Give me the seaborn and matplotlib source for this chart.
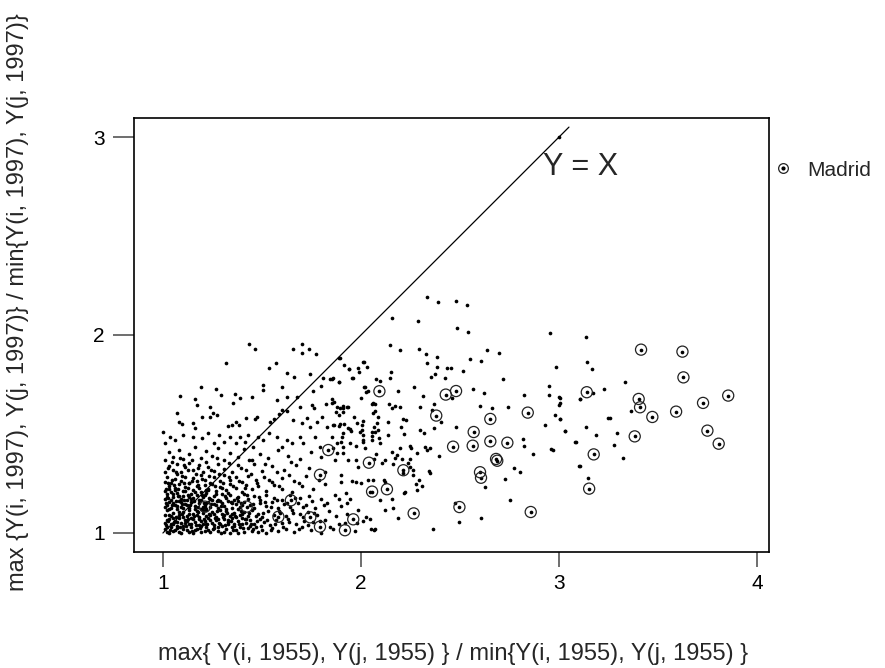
import matplotlib
matplotlib.use("Agg")
import matplotlib.pyplot as plt
from matplotlib.lines import Line2D
from matplotlib.legend_handler import HandlerTuple
import seaborn as sns
import pandas as pd

# --- data (ratio 1955 vs ratio 1997) ---
dense_pts = [
    (1.01,1.02),(1.02,1.005),(1.04,1.03),(1.05,1.01),(1.07,1.025),(1.09,1.00),(1.10,1.035),(1.12,1.015),(1.14,1.03),(1.15,1.00),
    (1.17,1.02),(1.19,1.035),(1.21,1.01),(1.22,1.03),(1.24,1.005),(1.26,1.025),(1.28,1.01),(1.30,1.035),(1.32,1.02),(1.34,1.00),
    (1.35,1.03),(1.37,1.015),(1.39,1.03),(1.41,1.005),(1.43,1.025),(1.45,1.01),(1.47,1.03),(1.50,1.015),(1.52,1.00),(1.55,1.025),
    (1.58,1.01),(1.62,1.02),(1.66,1.005),(1.70,1.03),(1.75,1.015),(1.80,1.00),(1.86,1.02),(1.97,1.01),(2.05,1.02),
    (1.01,1.05),(1.03,1.07),(1.04,1.045),(1.06,1.06),(1.08,1.075),(1.09,1.05),(1.11,1.065),(1.13,1.045),(1.14,1.075),(1.16,1.055),
    (1.18,1.07),(1.20,1.045),(1.21,1.06),(1.23,1.075),(1.25,1.05),(1.27,1.065),(1.29,1.045),(1.31,1.07),(1.33,1.055),(1.35,1.075),
    (1.36,1.045),(1.38,1.06),(1.40,1.075),(1.42,1.05),(1.44,1.065),(1.46,1.045),(1.49,1.07),(1.51,1.055),(1.54,1.04),(1.57,1.065),
    (1.60,1.05),(1.63,1.07),(1.67,1.045),(1.71,1.06),(1.76,1.055),(1.82,1.065),(1.89,1.045),(2.01,1.06),
    (1.01,1.09),(1.02,1.115),(1.04,1.085),(1.05,1.10),(1.07,1.12),(1.08,1.09),(1.10,1.105),(1.12,1.085),(1.13,1.115),(1.15,1.095),
    (1.17,1.11),(1.18,1.08),(1.20,1.10),(1.22,1.115),(1.24,1.09),(1.25,1.105),(1.27,1.08),(1.29,1.115),(1.30,1.095),(1.32,1.11),
    (1.34,1.085),(1.36,1.10),(1.38,1.12),(1.39,1.09),(1.41,1.105),(1.43,1.085),(1.45,1.115),(1.48,1.095),(1.50,1.08),(1.53,1.11),
    (1.56,1.09),(1.59,1.10),(1.62,1.085),(1.65,1.115),(1.69,1.095),(1.73,1.105),(1.78,1.09),(1.84,1.11),(1.93,1.095),
    (1.01,1.13),(1.03,1.155),(1.04,1.125),(1.06,1.14),(1.08,1.16),(1.09,1.13),(1.11,1.145),(1.13,1.125),(1.14,1.155),(1.16,1.135),
    (1.18,1.15),(1.19,1.12),(1.21,1.14),(1.23,1.155),(1.24,1.13),(1.26,1.145),(1.28,1.125),(1.30,1.15),(1.31,1.135),(1.33,1.16),
    (1.35,1.125),(1.37,1.145),(1.39,1.13),(1.41,1.155),(1.44,1.14),(1.46,1.125),(1.49,1.15),(1.52,1.135),(1.55,1.155),(1.58,1.125),
    (1.61,1.145),(1.64,1.13),(1.68,1.15),(1.72,1.14),(1.77,1.125),(1.83,1.15),(1.90,1.135),
    (1.01,1.17),(1.02,1.195),(1.04,1.165),(1.05,1.18),(1.07,1.20),(1.09,1.17),(1.10,1.185),(1.12,1.165),(1.14,1.195),(1.15,1.175),
    (1.17,1.19),(1.19,1.165),(1.20,1.18),(1.22,1.20),(1.24,1.17),(1.26,1.185),(1.28,1.165),(1.30,1.195),(1.32,1.175),(1.34,1.19),
    (1.36,1.165),(1.38,1.18),(1.41,1.195),(1.43,1.17),(1.46,1.185),(1.49,1.165),(1.52,1.19),(1.56,1.175),(1.60,1.165),(1.64,1.19),
    (1.69,1.175),(1.74,1.185),(1.80,1.17),(1.87,1.19),
]
fill_pts = [
    (1.02,1.03),(1.03,1.00),(1.05,1.045),(1.06,1.015),(1.07,1.035),(1.08,1.005),(1.10,1.02),(1.11,1.05),(1.13,1.005),(1.14,1.045),
    (1.16,1.015),(1.18,1.04),(1.19,1.005),(1.22,1.045),(1.23,1.015),(1.26,1.04),(1.28,1.03),(1.31,1.005),(1.33,1.045),(1.36,1.035),
    (1.38,1.00),(1.40,1.045),(1.44,1.035),(1.48,1.005),
    (1.02,1.065),(1.03,1.09),(1.05,1.075),(1.07,1.055),(1.08,1.105),(1.10,1.08),(1.12,1.06),(1.13,1.095),(1.15,1.07),(1.17,1.09),
    (1.19,1.06),(1.20,1.115),(1.22,1.085),(1.24,1.065),(1.26,1.095),(1.28,1.07),(1.31,1.09),(1.33,1.065),(1.35,1.095),(1.37,1.08),
    (1.40,1.095),(1.42,1.07),(1.47,1.085),
    (1.02,1.14),(1.03,1.12),(1.05,1.15),(1.07,1.135),(1.09,1.155),(1.10,1.125),(1.12,1.14),(1.14,1.17),(1.16,1.12),(1.18,1.165),
    (1.20,1.13),(1.22,1.15),(1.25,1.165),(1.27,1.14),(1.29,1.16),(1.32,1.12),(1.35,1.15),(1.38,1.16),(1.40,1.14),
    (1.02,1.18),(1.03,1.22),(1.05,1.195),(1.06,1.215),(1.08,1.185),(1.11,1.21),(1.13,1.18),(1.16,1.205),(1.18,1.225),(1.21,1.19),
    (1.23,1.215),(1.27,1.195),(1.30,1.225),(1.33,1.20),
]
fill_pts2 = [
    (1.015,1.04),(1.025,1.06),(1.035,1.015),(1.055,1.055),(1.065,1.08),(1.085,1.03),(1.095,1.095),(1.115,1.035),(1.125,1.07),
    (1.145,1.01),(1.155,1.085),(1.165,1.04),(1.175,1.105),(1.185,1.025),(1.205,1.07),(1.215,1.12),(1.225,1.045),(1.235,1.095),
    (1.255,1.02),(1.265,1.075),(1.275,1.11),(1.285,1.05),(1.295,1.00),(1.305,1.08),(1.315,1.04),(1.325,1.10),(1.345,1.06),
    (1.355,1.015),(1.365,1.085),(1.385,1.045),(1.395,1.11),(1.405,1.025),(1.415,1.07),(1.435,1.10),(1.445,1.045),(1.455,1.02),
    (1.475,1.06),(1.495,1.035),(1.505,1.10),(1.525,1.065),(1.545,1.015),(1.565,1.045),(1.585,1.11),(1.605,1.03),(1.635,1.055),
    (1.655,1.10),(1.685,1.02),(1.705,1.08),(1.735,1.04),(1.765,1.10),(1.795,1.06),(1.845,1.03),(1.875,1.085),(1.92,1.05),
    (1.015,1.15),(1.025,1.175),(1.045,1.14),(1.065,1.16),(1.075,1.185),(1.095,1.145),(1.105,1.165),(1.125,1.19),(1.135,1.14),
    (1.155,1.16),(1.175,1.13),(1.195,1.19),(1.205,1.15),(1.235,1.175),(1.245,1.145),(1.275,1.16),(1.295,1.135),(1.315,1.185),
    (1.345,1.155),(1.375,1.175),(1.395,1.15),(1.425,1.19),(1.455,1.145),(1.485,1.18),(1.515,1.155),(1.545,1.13),(1.575,1.165),
    (1.625,1.15),(1.665,1.175),(1.705,1.13),(1.755,1.16),(1.815,1.14),
    (1.015,1.22),(1.025,1.25),(1.045,1.27),(1.055,1.24),(1.075,1.22),(1.095,1.29),(1.105,1.25),(1.125,1.225),(1.145,1.265),
    (1.165,1.30),(1.175,1.24),(1.195,1.275),(1.215,1.215),(1.235,1.29),(1.265,1.235),(1.285,1.30),(1.305,1.25),(1.335,1.285),
    (1.355,1.235),(1.385,1.265),(1.415,1.225),(1.445,1.30),(1.475,1.25),(1.535,1.27),(1.585,1.235),(1.635,1.295),(1.685,1.25),
    (1.025,1.33),(1.045,1.36),(1.065,1.31),(1.085,1.38),(1.105,1.345),(1.125,1.32),(1.145,1.37),(1.175,1.33),(1.215,1.36),
    (1.245,1.32),(1.275,1.38),(1.335,1.355),(1.395,1.33),(1.435,1.37),(1.515,1.35),(1.575,1.31),(1.645,1.36),
]
mid_pts = [
    (1.01,1.21),(1.03,1.235),(1.04,1.205),(1.06,1.225),(1.08,1.245),(1.10,1.21),(1.11,1.23),(1.13,1.25),(1.15,1.215),(1.17,1.235),
    (1.19,1.205),(1.21,1.24),(1.23,1.22),(1.25,1.245),(1.27,1.21),(1.29,1.23),(1.32,1.215),(1.34,1.245),(1.37,1.225),(1.40,1.205),
    (1.42,1.24),(1.45,1.22),(1.48,1.235),(1.52,1.21),(1.56,1.24),(1.60,1.22),(1.65,1.205),(1.70,1.235),(1.76,1.22),(1.82,1.245),
    (1.01,1.26),(1.02,1.285),(1.04,1.255),(1.06,1.275),(1.07,1.30),(1.09,1.265),(1.11,1.285),(1.13,1.255),(1.15,1.28),(1.17,1.265),
    (1.19,1.295),(1.21,1.27),(1.24,1.255),(1.26,1.285),(1.29,1.265),(1.31,1.295),(1.34,1.27),(1.37,1.285),(1.40,1.26),(1.43,1.29),
    (1.47,1.27),(1.51,1.285),(1.55,1.26),(1.60,1.28),(1.66,1.265),(1.72,1.29),(1.79,1.27),
    (1.01,1.31),(1.03,1.34),(1.05,1.32),(1.07,1.35),(1.09,1.31),(1.11,1.335),(1.13,1.355),(1.15,1.32),(1.18,1.345),(1.20,1.31),
    (1.23,1.335),(1.26,1.315),(1.28,1.35),(1.31,1.325),(1.35,1.31),(1.38,1.345),(1.42,1.32),(1.46,1.35),(1.50,1.315),(1.55,1.34),
    (1.61,1.32),(1.67,1.345),(1.74,1.33),(1.82,1.31),
    (1.01,1.37),(1.03,1.41),(1.05,1.385),(1.08,1.42),(1.10,1.375),(1.13,1.40),(1.16,1.435),(1.19,1.38),(1.22,1.415),(1.25,1.39),
    (1.28,1.43),(1.31,1.37),(1.34,1.405),(1.38,1.385),(1.41,1.425),(1.45,1.37),(1.49,1.40),(1.53,1.38),(1.58,1.42),(1.63,1.39),
    (1.69,1.375),(1.75,1.41),(1.80,1.385),
]
upper_left_pts = [
    (1.434,1.955),(1.466,1.930),(1.658,1.930),(1.702,1.955),(1.737,1.930),(1.773,1.904),(1.700,1.911),(1.318,1.857),(1.534,1.834),
    (1.569,1.857),(1.889,1.886),(1.939,1.830),(1.625,1.807),(1.663,1.790),(1.742,1.803),(1.810,1.785),(1.860,1.785),(1.887,1.765),
    (1.986,1.832),(2.012,1.866),(1.958,1.785),(1.190,1.736),(1.268,1.726),(1.291,1.697),(1.086,1.692),(1.162,1.675),(1.170,1.647),
    (1.507,1.748),(1.507,1.723),(1.603,1.736),(1.365,1.701),(1.389,1.680),(1.355,1.655),(1.451,1.689),(1.574,1.672),(1.628,1.689),
    (1.675,1.685),(1.756,1.717),(1.798,1.743),(1.842,1.780),(1.694,1.637),(1.754,1.645),(1.763,1.630),(1.822,1.652),(1.852,1.655),
    (1.877,1.635),(1.911,1.633),(1.936,1.638),(2.015,1.739),(2.025,1.714),(1.069,1.605),(1.083,1.563),(1.096,1.551),(1.150,1.554),
    (1.163,1.532),(1.195,1.588),(1.239,1.588),(1.254,1.608),(1.274,1.597),(1.237,1.638),(1.328,1.542),(1.347,1.546),(1.369,1.559),
    (1.384,1.546),(1.419,1.579),(1.465,1.574),(1.476,1.588),(1.540,1.563),(1.562,1.576),(1.586,1.600),(1.625,1.618),(1.601,1.622),
    (1.658,1.571),(1.704,1.554),(1.726,1.581),(1.742,1.537),(1.776,1.563),(1.805,1.588),(1.827,1.537),(1.860,1.546),(1.894,1.551),
    (1.911,1.503),(1.936,1.529),(1.978,1.554),(1.995,1.512),(2.062,1.655),(2.059,1.605),(2.079,1.554),(2.071,1.512),(1.002,1.512),
    (1.035,1.487),(1.010,1.453),(1.061,1.470),(1.103,1.495),(1.153,1.487),(1.195,1.478),(1.226,1.503),(1.258,1.453),(1.285,1.495),
    (1.310,1.461),(1.338,1.487),(1.369,1.453),(1.389,1.487),(1.414,1.461),(1.431,1.495),(1.456,1.436),(1.481,1.487),(1.507,1.470),
    (1.537,1.503),(1.574,1.483),(1.599,1.436),(1.625,1.470),(1.650,1.453),(1.692,1.487),(1.709,1.453),(1.768,1.487),(1.793,1.436),
    (1.877,1.453),(1.911,1.436),(1.944,1.453),(2.012,1.470),(2.020,1.428),
]
middle_right_pts = [
    (2.335,2.190),(2.387,2.169),(2.481,2.174),(2.533,2.153),(2.156,2.088),(2.286,2.071),(2.486,2.034),(2.538,2.014),(2.952,2.009),
    (2.146,1.948),(2.198,1.926),(2.292,1.931),(2.330,1.904),(2.382,1.887),(2.638,1.926),(2.697,1.911),(2.548,1.881),(2.607,1.867),
    (1.892,1.886),(1.915,1.850),(1.941,1.830),(1.988,1.812),(2.013,1.862),(2.028,1.837),(2.151,1.813),(2.149,1.783),(1.957,1.785),
    (1.888,1.763),(1.856,1.778),(2.331,1.857),(2.382,1.837),(2.436,1.834),(2.456,1.834),(2.513,1.820),(2.351,1.790),(2.372,1.802),
    (2.424,1.785),(2.717,1.780),(2.984,1.840),(2.947,1.743),(2.998,1.689),(2.951,1.697),(2.824,1.697),(3.106,1.679),(3.000,1.648),
    (2.981,1.598),(3.005,1.574),(2.927,1.547),(3.030,1.515),(3.082,1.460),(2.961,1.423),(2.968,1.421),(2.816,1.477),(2.823,1.441),
    (2.868,1.398),(3.102,1.339),(2.774,1.330),(2.801,1.308),(2.727,1.271),(2.754,1.169),(2.624,1.234),(2.607,1.078),(2.496,1.056),
    (2.365,1.019),(2.565,1.728),(2.622,1.709),(2.660,1.630),(2.742,1.635),(2.601,1.643),(2.481,1.536),(2.461,1.680),(2.402,1.563),
    (2.368,1.529),(2.395,1.391),(2.348,1.428),(2.331,1.418),(2.323,1.436),(2.319,1.505),(2.296,1.519),(2.343,1.312),(2.350,1.305),
    (2.247,1.441),(2.281,1.403),(2.266,1.739),(2.311,1.692),(2.299,1.638),(2.367,1.650),(2.361,1.622),(2.294,1.268),(2.276,1.248),
    (2.308,1.239),(2.212,1.305),(2.264,1.293),(2.281,1.217),(2.185,1.078),(2.223,1.206),(2.217,1.201),(2.156,1.170),(2.160,1.125),
    (2.121,1.116),(2.096,1.167),(2.117,1.268),(2.045,1.206),(2.047,1.069),(2.069,1.019),(2.067,1.015),(2.025,1.079),(1.986,1.116),
    (1.981,1.049),(1.927,1.154),(1.944,1.170),(1.887,1.170),(1.922,1.201),(1.956,1.263),(1.976,1.260),(2.001,1.251),(2.037,1.268),
    (2.062,1.268),(2.121,1.256),(1.899,1.256),(1.899,1.293),(1.868,1.369),(1.936,1.367),(1.974,1.369),(1.986,1.332),(2.067,1.376),
    (2.074,1.399),(2.107,1.355),(2.156,1.408),(2.171,1.377),(2.163,1.347),(2.180,1.394),(2.245,1.376),(2.247,1.335),(2.264,1.318),
    (2.096,1.453),(2.089,1.480),(2.057,1.470),(2.057,1.492),(2.055,1.510),(2.067,1.534),(2.085,1.520),(2.003,1.520),(2.010,1.495),
    (2.011,1.461),(1.973,1.441),(1.951,1.517),(1.944,1.524),(1.904,1.487),(1.912,1.549),(1.888,1.542),(1.863,1.547),(1.856,1.487),
    (1.858,1.428),(1.878,1.403),(1.909,1.403),(1.900,1.461),(1.910,1.642),(1.930,1.635),(1.910,1.613),(1.890,1.596),(1.863,1.664),
    (1.855,1.677),(1.873,1.613),(1.893,1.630),(1.964,1.588),(2.011,1.564),(2.006,1.546),(2.000,1.680),(2.021,1.739),(2.037,1.717),
    (2.075,1.776),(2.096,1.768),(2.057,1.650),(2.072,1.652),(2.072,1.615),(2.087,1.588),(2.138,1.563),(2.139,1.652),(2.159,1.632),
    (2.171,1.640),(2.186,1.716),(2.195,1.638),(2.210,1.574),(2.227,1.573),(2.202,1.534),(2.217,1.500),(2.138,1.495),(2.122,1.369),
    (2.197,1.428),(2.205,1.374),(2.237,1.352),(2.254,1.428),(2.473,1.153),(2.998,2.998),
]
far_right_pts = [
    (3.136,1.991),(3.141,1.862),(3.168,1.828),(3.335,1.764),(3.226,1.725),(3.173,1.705),(3.106,1.677),(3.005,1.680),(3.005,1.655),
    (3.365,1.618),(3.249,1.579),(3.258,1.579),(3.005,1.574),(3.030,1.517),(3.136,1.537),(3.187,1.493),(3.293,1.503),(3.084,1.461),
    (3.278,1.444),(3.325,1.380),(3.106,1.338),(3.146,1.278),
]
madrid_pts = [
    (3.414,1.926),(3.623,1.916),(3.628,1.786),(3.140,1.711),(3.854,1.694),(3.402,1.677),(3.409,1.635),(3.727,1.657),(3.471,1.586),
    (3.591,1.613),(3.749,1.517),(3.806,1.451),(3.382,1.488),(3.175,1.397),(3.152,1.224),
    (2.093,1.716),(2.428,1.699),(2.480,1.717),(2.842,1.608),(2.380,1.593),(2.653,1.576),(2.569,1.510),(2.465,1.436),(2.564,1.441),
    (2.653,1.463),(2.739,1.456),(2.682,1.374),(2.688,1.365),(2.601,1.307),(2.606,1.279),(2.040,1.355),(2.214,1.317),(2.056,1.209),
    (2.131,1.221),(2.497,1.131),(2.857,1.106),(2.266,1.099),(1.961,1.069),(1.919,1.014),
    (1.835,1.419),(1.793,1.294),(1.646,1.165),(1.744,1.079),(1.793,1.032),(1.583,1.082),(1.212,1.133),(1.423,1.133),
]
line_x = [1.0, 3.05]
x_ticks = [1, 2, 3, 4]
y_ticks = [1, 2, 3]

all_pts = (dense_pts + fill_pts + fill_pts2 + mid_pts + upper_left_pts
           + middle_right_pts + far_right_pts + madrid_pts)
cloud = pd.DataFrame(all_pts, columns=["x", "y"])
madrid = pd.DataFrame(madrid_pts, columns=["x", "y"])
diag = pd.DataFrame({"x": line_x, "y": line_x})

sns.set_theme(style="white")
plt.rcParams["font.family"] = ["Liberation Sans", "DejaVu Sans"]

fig = plt.figure(figsize=(8.85, 6.68), dpi=100)
ax = fig.add_axes([134 / 885, 116 / 668, 635 / 885, 434 / 668])

sns.lineplot(data=diag, x="x", y="y", color="black", linewidth=0.9, ax=ax)
sns.scatterplot(data=cloud, x="x", y="y", s=7, color="black", linewidth=0, ax=ax)
sns.scatterplot(data=madrid, x="x", y="y", s=64, marker="o", facecolor="none",
                edgecolor="#222222", linewidth=0.9, ax=ax)

ax.text(3.11, 2.85, "Y = X", fontsize=22, ha="center", va="center")

ax.set_xlim(0.854, 4.06)
ax.set_ylim(0.904, 3.096)
ax.set_xticks(x_ticks)
ax.set_yticks(y_ticks)
ax.set_xlabel("")
ax.set_ylabel("")
ax.tick_params(axis="both", labelsize=15, colors="#555555", labelcolor="black", width=1.2)
ax.tick_params(axis="x", length=11, pad=5, bottom=True)
ax.tick_params(axis="y", length=15, pad=6, left=True)
for sp in ax.spines.values():
    sp.set_color("black")
    sp.set_linewidth(1.2)

circ = Line2D([], [], marker="o", linestyle="none", markersize=7, markerfacecolor="none",
              markeredgecolor="#222222", markeredgewidth=0.9)
dot = Line2D([], [], marker="o", linestyle="none", markersize=2, color="black")
ax.legend(handles=[(circ, dot)], labels=["Madrid"], loc="center left",
          bbox_to_anchor=(1.006, 0.88), frameon=False, fontsize=15, borderpad=0,
          borderaxespad=0, handlelength=1.0, handletextpad=0.65,
          handler_map={tuple: HandlerTuple(ndivide=1)})

fig.text(453 / 885, 1 - 654 / 668,
         "max{ Y(i, 1955), Y(j, 1955) } / min{Y(i, 1955), Y(j, 1955) }",
         fontsize=17, ha="center", va="center")
fig.text(18 / 885, 1 - 302 / 668,
         "max {Y(i, 1997), Y(j, 1997)} / min{Y(i, 1997), Y(j, 1997)}",
         fontsize=17, ha="center", va="center", rotation=90)

fig.savefig("out.png", dpi=100)
